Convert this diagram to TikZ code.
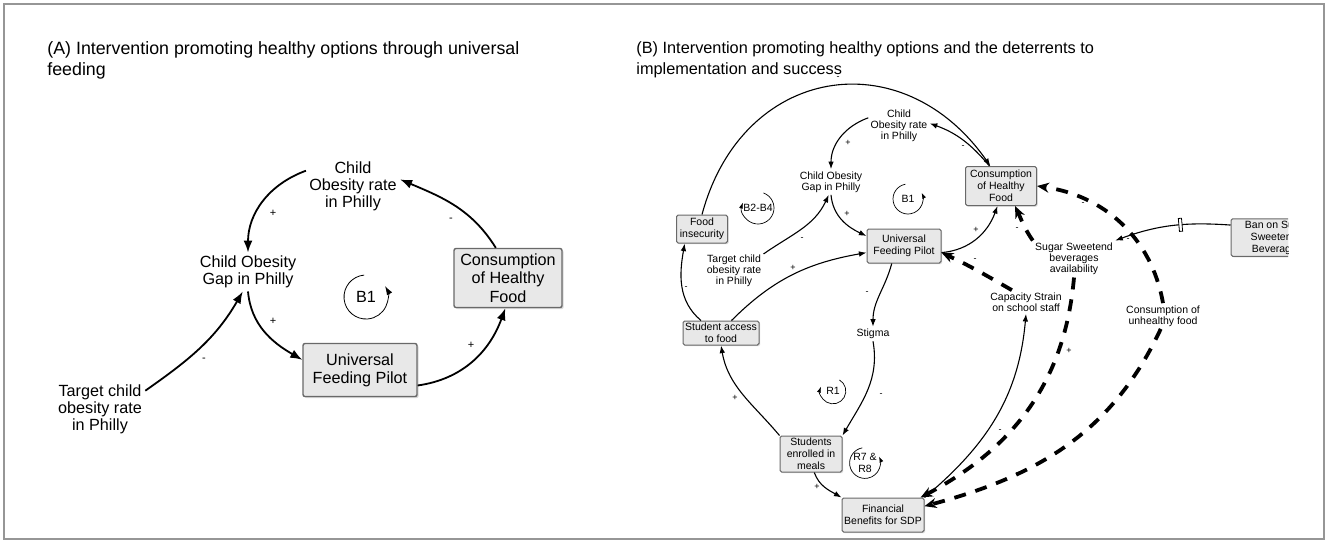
\documentclass[tikz,border=0pt]{standalone}
\usepackage{fontspec}
\setmainfont{Liberation Sans}
\usetikzlibrary{arrows.meta,shadows}
\definecolor{boxfill}{RGB}{232,232,232}
\definecolor{boxline}{RGB}{105,105,105}
\definecolor{framegray}{RGB}{150,150,150}
\tikzset{
  titletxt/.style={anchor=west, align=left, inner sep=0pt},
  varA/.style={align=center, inner sep=1.5pt, font=\fontsize{8.1}{8.5}\selectfont},
  boxA/.style={varA, draw=boxline, fill=boxfill, line width=0.7pt, rounded corners=1pt,
               font=\fontsize{8.1}{9.2}\selectfont,
               drop shadow={shadow xshift=0.8pt, shadow yshift=-0.8pt, fill=black!30}},
  varB/.style={align=center, inner sep=1pt, font=\fontsize{5.25}{5.6}\selectfont},
  boxB/.style={varB, draw=boxline, fill=boxfill, line width=0.5pt, rounded corners=0.8pt,
               font=\fontsize{5.25}{6}\selectfont,
               drop shadow={shadow xshift=0.6pt, shadow yshift=-0.6pt, fill=black!30}},
  linkA/.style={-{Latex[length=6pt,width=4.5pt]}, line width=0.9pt},
  linkB/.style={-{Latex[length=3.8pt,width=2.8pt]}, line width=0.55pt},
  dlink/.style={-{Stealth[length=6pt,width=5pt]}, line width=1.9pt, dash pattern=on 6pt off 5pt},
  sgnA/.style={inner sep=0pt, font=\fontsize{5.5}{6}\selectfont},
  sgnB/.style={inner sep=0pt, font=\fontsize{4.5}{5}\selectfont},
  loopA/.style={-{Latex[length=4.5pt,width=3pt]}, line width=0.4pt},
  loopB/.style={-{Latex[length=3pt,width=2pt]}, line width=0.35pt},
  delaybar/.style={draw, fill=white, line width=0.4pt, inner sep=0pt,
                   minimum width=1.6pt, minimum height=6.5pt, sloped}
}

\begin{document}
\begin{tikzpicture}[x=0.5pt,y=0.5pt]
\useasboundingbox (0,0) rectangle (1327,-543);
\draw[framegray, line width=1.2pt] (4,-4) rectangle (1324,-539);

% titles
\node[titletxt, font=\fontsize{8.9}{10.5}\selectfont] (ttlA) at (47,-60)
  {(A) Intervention promoting healthy options through universal\\feeding};
\node[titletxt, font=\fontsize{8.15}{10.5}\selectfont] (ttlB) at (636,-60)
  {(B) Intervention promoting healthy options and the deterrents to\\implementation and success};

% ---- panel A
\node[varA] (rateA) at (353,-186) {Child\\Obesity rate\\in Philly};
\node[varA] (gapA) at (248,-272) {Child Obesity\\Gap in Philly};
\node[varA] (tgtA) at (100,-409) {Target child\\obesity rate\\in Philly};
\node[boxA, minimum width=54pt, minimum height=29.5pt] (chfA) at (508,-278) {Consumption\\of Healthy\\Food};
\node[boxA, minimum width=57pt, minimum height=26.5pt] (ufpA) at (360,-370) {Universal\\Feeding Pilot};
\node[varA] (lpA) at (366,-297) {B1};
\draw[loopA] ([shift={(95:11pt)}]lpA.center) arc[start angle=95, end angle=390, radius=11pt];

\draw[linkA] (rateA.162) to[out=200,in=90] (gapA.north);
\draw[linkA] (gapA.south) to[out=-85,in=150] (ufpA.170);
\draw[linkA] (tgtA.22) to[out=35,in=240] (gapA.-105);
\draw[linkA] (ufpA.-15) to[out=8,in=-110] (chfA.-95);
\draw[linkA] (chfA.112) to[out=122,in=-23] (rateA.8);

\node[sgnA] (sA1) at (273,-213) {+};
\node[sgnA] (sA2) at (273,-321) {+};
\node[sgnA] (sA3) at (204,-360) {-};
\node[sgnA] (sA4) at (451,-220) {-};
\node[sgnA] (sA5) at (471,-345) {+};

% ---- panel B
\node[varB] (rateB) at (899,-126) {Child\\Obesity rate\\in Philly};
\node[varB] (gapB) at (831,-182) {Child Obesity\\Gap in Philly};
\node[varB] (tgtB) at (734,-271) {Target child\\obesity rate\\in Philly};
\node[varB] (stigmaB) at (873,-334) {Stigma};
\node[varB] (strainB) at (1026,-302) {Capacity Strain\\on school staff};
\node[varB] (sugarB) at (1074,-259) {Sugar Sweetend\\beverages\\availability};
\node[varB] (unhB) at (1163,-316) {Consumption of\\unhealthy food};
\node[boxB, minimum width=35.5pt, minimum height=19.5pt] (chfB) at (1001,-186) {Consumption\\of Healthy\\Food};
\node[boxB, minimum width=37pt, minimum height=17pt] (ufpB) at (904,-246) {Universal\\Feeding Pilot};
\node[boxB, minimum width=25.5pt, minimum height=14pt] (foodB) at (702,-229) {Food\\insecurity};
\node[boxB, minimum width=38pt, minimum height=12pt] (accessB) at (721,-333) {Student access\\to food};
\node[boxB, minimum width=31pt, minimum height=18pt] (enrolB) at (811,-454) {Students\\enrolled in\\meals};
\node[boxB, minimum width=41pt, minimum height=17pt] (finB) at (883,-515) {Financial\\Benefits for SDP};
\begin{scope}
  \clip (1200,-200) rectangle (1288,-280);
  \node[boxB, minimum width=46pt, minimum height=17.5pt] (banB) at (1277,-237.5) {Ban on Sugar\\Sweetened\\Beverages};
\end{scope}

\node[varB] (lb1B) at (908,-199) {B1};
\node[varB] (lb24B) at (758,-208) {B2-B4};
\node[varB] (lr1B) at (833,-391) {R1};
\node[varB] (lr78B) at (865,-463) {R7 \&\\R8};
\draw[loopB] ([shift={(100:7.5pt)}]lb1B.center) arc[start angle=100, end angle=385, radius=7.5pt];
\draw[loopB] ([shift={(70:8pt)}]lb24B.center) arc[start angle=70, end angle=-200, radius=8pt];
\draw[loopB] ([shift={(60:6.4pt)}]lr1B.center) arc[start angle=60, end angle=-200, radius=6.4pt];
\draw[loopB] ([shift={(100:7.7pt)}]lr78B.center) arc[start angle=100, end angle=385, radius=7.7pt];

\draw[linkB] (rateB.165) to[out=200,in=90] (gapB.north);
\draw[linkB] (gapB.south) to[out=-85,in=155] (ufpB.165);
\draw[linkB] (tgtB.30) to[out=35,in=245] (gapB.-100);
\draw[linkB] (ufpB.-10) to[out=5,in=-110] (chfB.-100);
\draw[linkB] (chfB.120) to[out=130,in=-20] (rateB.5);
\draw[linkB] (foodB.north) to[out=75,in=125,looseness=1.35] (chfB.118);
\draw[linkB] (accessB.50) to[out=45,in=190] (ufpB.190);
\draw[linkB] (accessB.148) to[out=140,in=260] (foodB.-140);
\draw[linkB] (ufpB.-125) to[out=-105,in=90] (stigmaB.north);
\draw[linkB] (stigmaB.south) to[out=-80,in=60] (enrolB.north east);
\draw[linkB] (enrolB.north west) to[out=130,in=-80] (accessB.south);
\draw[linkB] (enrolB.-80) to[out=-70,in=150] (finB.north west);
\draw[linkB] (finB.north east) to[out=40,in=-95] (strainB.south);
\draw[linkB] (banB.165) to[out=176,in=20] node[delaybar, pos=0.42] (dly) {} (sugarB.north east);

\draw[dlink] (strainB.140) to[out=150,in=-25] (ufpB.-10);
\draw[dlink] (sugarB.north west) to[out=125,in=-65] (chfB.-55);
\draw[dlink] (unhB.north) to[out=100,in=-8] (chfB.east);
\draw[dlink] (sugarB.south) to[out=-95,in=28] (finB.25);
\draw[dlink] (unhB.-100) to[out=-115,in=15] (finB.12);

\node[sgnB] (sB1) at (838,-78) {-};
\node[sgnB] (sB2) at (848,-143) {+};
\node[sgnB] (sB3) at (963,-147) {-};
\node[sgnB] (sB4) at (847,-214) {+};
\node[sgnB] (sB5) at (802,-239) {-};
\node[sgnB] (sB6) at (976,-230) {+};
\node[sgnB] (sB7) at (793,-268) {+};
\node[sgnB] (sB8) at (686,-288) {-};
\node[sgnB] (sB9) at (867,-293) {-};
\node[sgnB] (sB10) at (881,-395) {-};
\node[sgnB] (sB11) at (735,-398) {+};
\node[sgnB] (sB12) at (817,-487) {+};
\node[sgnB] (sB13) at (1000,-431) {-};
\node[sgnB] (sB14) at (1017,-474) {-};
\node[sgnB] (sB15) at (1069,-351) {+};
\node[sgnB] (sB16) at (975,-260) {-};
\node[sgnB] (sB17) at (1017,-229) {-};
\node[sgnB] (sB18) at (1083,-204) {-};
\node[sgnB] (sB19) at (1128,-240) {-};
\end{tikzpicture}
\end{document}
